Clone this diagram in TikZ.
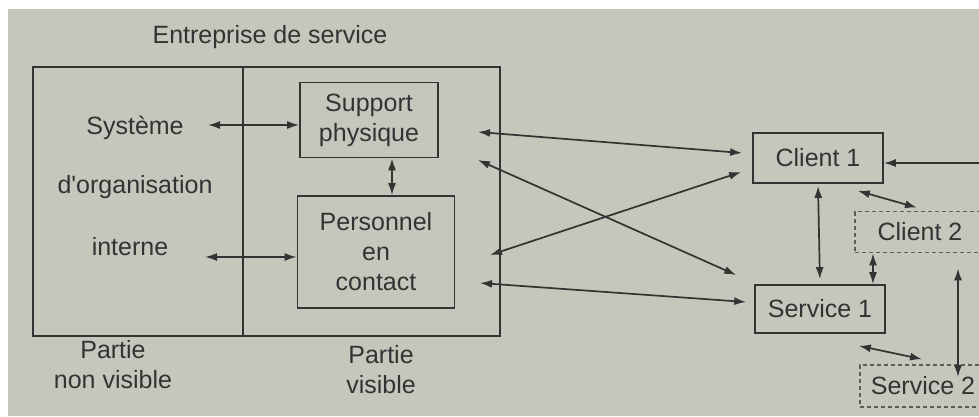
\documentclass[tikz,border=0pt]{standalone}
\usepackage{fontspec}
\setmainfont{Liberation Sans}
\usetikzlibrary{arrows.meta}
\definecolor{bg}{HTML}{C7C6BC}
\definecolor{ink}{HTML}{333333}
\begin{document}
\begin{tikzpicture}[x=1pt,y=-1pt,
  >={Latex[length=12pt,width=8pt]},
  txt/.style={text=ink,font=\fontsize{25}{30}\selectfont,align=center,inner sep=0pt},
  box/.style={txt,draw=ink,line width=1.7pt},
  dbox/.style={txt,draw=ink!80,line width=1.7pt,dash pattern=on 4pt off 3pt},
  link/.style={draw=ink,line width=1.7pt,<->},
  arr/.style={draw=ink,line width=1.7pt,->}]
\useasboundingbox (0,0) rectangle (979,416);
\clip (0,0) rectangle (979,416);
\fill[white] (0,0) rectangle (979,416);
\fill[bg] (8,9) rectangle (979,416);

% enterprise
\node[txt] (title) at (270,37) {Entreprise de service};
\node[draw=ink,line width=1.7pt,minimum width=467pt,minimum height=269pt,inner sep=0pt] (ent) at (266.5,201.5) {};
\coordinate (divT) at (243,67);
\coordinate (divB) at (243,336);
\draw[ink,line width=1.7pt] (divT) -- (divB);

\node[txt] (sys) at (135,128) {Système};
\node[txt] (org) at (135,187) {d\textquotesingle organisation};
\node[txt] (int) at (130,247) {interne};

\node[box,minimum width=138pt,minimum height=75pt] (support) at (369,120) {Support\\physique};
\node[box,minimum width=157pt,minimum height=112pt] (pers) at (376,252) {Personnel\\en\\contact};

\node[txt] (pnv) at (113,365) {Partie\\non visible};
\node[txt] (pv) at (381,370) {Partie\\visible};

% clients / services
\node[box,minimum width=130pt,minimum height=50pt] (c1) at (818,158) {Client 1};
\node[box,minimum width=130pt,minimum height=48pt] (s1) at (820,309) {Service 1};
\node[dbox,minimum width=130pt,minimum height=41pt] (c2) at (920,232) {Client 2};
\node[dbox,minimum width=126pt,minimum height=42pt] (s2) at (923,386) {Service 2};

% connectors inside
\coordinate (sysR) at (208,125);
\draw[link] (sysR) -- (sysR -| support.west);
\coordinate (intR) at (205,257);
\draw[link] (intR) -- (intR -| pers.west);
\draw[link] ([xshift=23pt]support.south) -- ([xshift=23pt]support.south |- pers.north);

% connectors to the right
\coordinate (spA) at (478,132);
\coordinate (spB) at (478,160);
\coordinate (pcA) at (490,255);
\coordinate (pcB) at (480,283);
\draw[link] (spA) -- ([shift={(-10,-5)}]c1.west);
\draw[link] (spB) -- ([shift={(-18,-34)}]s1.west);
\draw[link] (pcA) -- ([shift={(-11,14)}]c1.west);
\draw[link] (pcB) -- ([shift={(-8,-7)}]s1.west);

\draw[link,shorten <=2pt,shorten >=5pt] (c1.south) -- (s1.north);
\draw[link] ([shift={(-26,7)}]c1.south east) -- ([shift={(-3,-3)}]c2.north);
\draw[link] ([xshift=-47pt]c2.south) -- ([xshift=-47pt]c2.south |- s1.north);
\draw[link,shorten >=2pt] ([shift={(38,15)}]c2.south) -- ([shift={(38,15)}]c2.south |- s2.north);
\draw[link] ([shift={(-27,12)}]s1.south east) -- ([shift={(-1,-5)}]s2.north);

\coordinate (edgeR) at (985,163);
\draw[arr] (edgeR) -- (edgeR -| c1.east);
\end{tikzpicture}
\end{document}
